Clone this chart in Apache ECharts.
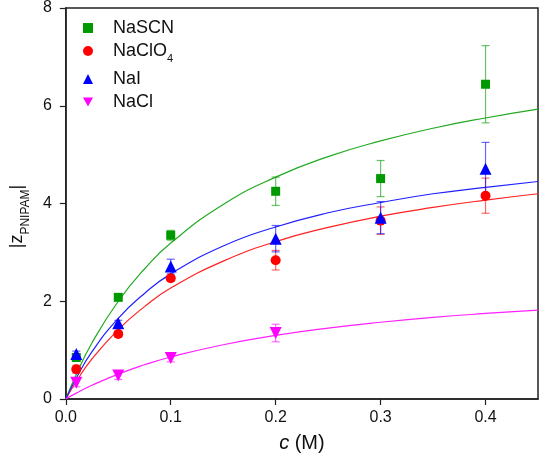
<!DOCTYPE html>
<html>
<head>
<meta charset="utf-8">
<script src="https://cdn.jsdelivr.net/npm/echarts@6/dist/echarts.min.js"></script>
<style>
html,body{margin:0;padding:0;background:#fff;}
#c{width:540px;height:462px;}
</style>
</head>
<body>
<div id="c"></div>
<script>
// ---- data ----
const xVals = [0.01, 0.05, 0.1, 0.2, 0.3, 0.4];
const nascn = [0.85, 2.08, 3.35, 4.25, 4.51, 6.44];
const nascnErr = [0.08, 0.06, 0.1, 0.29, 0.37, 0.79];
const naclo4 = [0.61, 1.33, 2.47, 2.84, 3.65, 4.16];
const naclo4Err = [0.08, 0.06, 0.06, 0.2, 0.28, 0.36];
const nai = [0.92, 1.55, 2.71, 3.28, 3.71, 4.71];
const naiErr = [0.06, 0.06, 0.15, 0.27, 0.33, 0.54];
const naclX = [0.01, 0.05, 0.1, 0.2];
const nacl = [0.33, 0.48, 0.84, 1.35];
const naclErr = [0.08, 0.08, 0.08, 0.18];

// fitted curves
const fitX = [0, 0.01, 0.025, 0.05, 0.075, 0.1, 0.15, 0.2, 0.25, 0.3, 0.35, 0.4, 0.45];
const fitNaSCN = [0, 0.50, 1.15, 2.00, 2.66, 3.19, 3.98, 4.54, 4.96, 5.28, 5.54, 5.75, 5.93];
const fitNaI = [0, 0.43, 0.97, 1.65, 2.16, 2.56, 3.13, 3.52, 3.81, 4.02, 4.20, 4.33, 4.45];
const fitNaClO4 = [0, 0.36, 0.82, 1.42, 1.89, 2.27, 2.82, 3.22, 3.51, 3.74, 3.92, 4.07, 4.20];
const fitNaCl = [0, 0.12, 0.28, 0.51, 0.70, 0.86, 1.11, 1.30, 1.45, 1.57, 1.67, 1.75, 1.82];

const xTicks = [0, 0.1, 0.2, 0.3, 0.4];
const legendNames = ['NaSCN', 'NaClO4', 'NaI', 'NaCl'];

const C_GREEN = '#009a00', C_RED = '#ff0000', C_BLUE = '#0000ff', C_MAG = '#ff00ff';
const FONT = 'Liberation Sans, Arial, sans-serif';

function pts(xs, ys) { return xs.map((x, i) => [x, ys[i]]); }
function errPts(xs, ys, es) { return xs.map((x, i) => [x, ys[i] - es[i], ys[i] + es[i]]); }

function errRender(params, api) {
  const x = api.value(0), lo = api.value(1), hi = api.value(2);
  const p1 = api.coord([x, hi]), p2 = api.coord([x, lo]);
  const w = 4;
  const st = { stroke: api.visual('color'), lineWidth: 1.2, opacity: 0.6 };
  return {
    type: 'group',
    children: [
      { type: 'line', shape: { x1: p1[0], y1: p1[1], x2: p2[0], y2: p2[1] }, style: st },
      { type: 'line', shape: { x1: p1[0] - w, y1: p1[1], x2: p1[0] + w, y2: p1[1] }, style: st },
      { type: 'line', shape: { x1: p2[0] - w, y1: p2[1], x2: p2[0] + w, y2: p2[1] }, style: st }
    ]
  };
}

function fitSeries(name, ys, color) {
  return { name: name, type: 'line', data: pts(fitX, ys), smooth: true, showSymbol: false,
    lineStyle: { color: color, width: 1.2 }, itemStyle: { color: color }, z: 1, silent: true };
}
function errSeries(name, xs, ys, es, color) {
  return { name: name, type: 'custom', renderItem: errRender, data: errPts(xs, ys, es),
    itemStyle: { color: color }, encode: { x: 0, y: [1, 2] }, z: 2, silent: true };
}
function scatSeries(name, xs, ys, color, symbol, size, rot) {
  return { name: name, type: 'scatter', data: pts(xs, ys), symbol: symbol, symbolSize: size,
    symbolRotate: rot || 0, itemStyle: { color: color, opacity: 1 }, z: 3 };
}

function mkLegend(name, icon, top) {
  return {
    left: 83, top: top, orient: 'vertical', padding: 0, itemWidth: 10, itemHeight: 10,
    data: [{ name: name, icon: icon }], selectedMode: false,
    formatter: function (n) {
      if (n === 'NaClO4') return '{sp|}{t|NaClO}{s|4}';
      return '{sp|}{t|' + n + '}';
    },
    textStyle: {
      fontFamily: FONT, fontSize: 18, color: '#111',
      rich: {
        sp: { width: 15 },
        t: { fontFamily: FONT, fontSize: 18, color: '#111', lineHeight: 20 },
        s: { fontFamily: FONT, fontSize: 11, color: '#111', lineHeight: 11, verticalAlign: 'top', padding: [12, 0, 0, 0] }
      }
    }
  };
}

const chart = echarts.init(document.getElementById('c'), null, { renderer: 'canvas' });
chart.setOption({
  animation: false,
  backgroundColor: '#fff',
  grid: { left: 53, right: 2, top: 7, bottom: 63, show: true, borderColor: '#222', borderWidth: 1.5, backgroundColor: 'transparent' },
  legend: [
    mkLegend('NaSCN', 'rect', 19),
    mkLegend('NaClO4', 'circle', 41),
    mkLegend('NaI', 'triangle', 70),
    mkLegend('NaCl', 'path://M0,0L10,0L5,9Z', 93)
  ],
  xAxis: {
    type: 'value', min: 0, max: 0.45, interval: 0.1,
    name: '{i|c} (M)', nameLocation: 'middle', nameGap: 34,
    nameTextStyle: { fontFamily: FONT, fontSize: 20, color: '#111',
      rich: { i: { fontFamily: FONT, fontSize: 20, fontStyle: 'italic', color: '#111' } } },
    axisLine: { show: true, onZero: false, lineStyle: { color: '#222', width: 1.5 } },
    axisTick: { show: true, inside: false, length: 6, lineStyle: { color: '#222', width: 1.2 }, customValues: xTicks },
    axisLabel: { fontFamily: FONT, fontSize: 16, color: '#111', margin: 11, customValues: xTicks,
      formatter: function (v) { return v.toFixed(1); } },
    splitLine: { show: false }
  },
  yAxis: {
    type: 'value', min: 0, max: 8, interval: 2,
    name: '|{z|z}{s|PNIPAM}|', nameLocation: 'middle', nameGap: 33, nameRotate: 90,
    nameTextStyle: { fontFamily: FONT, fontSize: 18, color: '#111', padding: [0, 26, 0, 0],
      rich: {
        z: { fontFamily: FONT, fontSize: 18, color: '#111' },
        s: { fontFamily: FONT, fontSize: 12, color: '#111', verticalAlign: 'bottom', padding: [0, 0, -6, 0] }
      } },
    axisLine: { show: true, onZero: false, lineStyle: { color: '#222', width: 1.5 } },
    axisTick: { show: true, inside: false, length: 6, lineStyle: { color: '#222', width: 1.2 } },
    axisLabel: { fontFamily: FONT, fontSize: 16, color: '#111', margin: 14 },
    splitLine: { show: false }
  },
  series: [
    fitSeries('fitNaSCN', fitNaSCN, '#22aa22'),
    fitSeries('fitNaClO4', fitNaClO4, '#ff2020'),
    fitSeries('fitNaI', fitNaI, '#2020ff'),
    fitSeries('fitNaCl', fitNaCl, '#ff20ff'),
    errSeries('errNaSCN', xVals, nascn, nascnErr, C_GREEN),
    errSeries('errNaClO4', xVals, naclo4, naclo4Err, C_RED),
    errSeries('errNaI', xVals, nai, naiErr, C_BLUE),
    errSeries('errNaCl', naclX, nacl, naclErr, C_MAG),
    scatSeries('NaSCN', xVals, nascn, C_GREEN, 'rect', 9),
    scatSeries('NaClO4', xVals, naclo4, C_RED, 'circle', 10),
    scatSeries('NaI', xVals, nai, C_BLUE, 'triangle', 12),
    scatSeries('NaCl', naclX, nacl, C_MAG, 'triangle', 12, 180)
  ]
});
</script>
</body>
</html>
